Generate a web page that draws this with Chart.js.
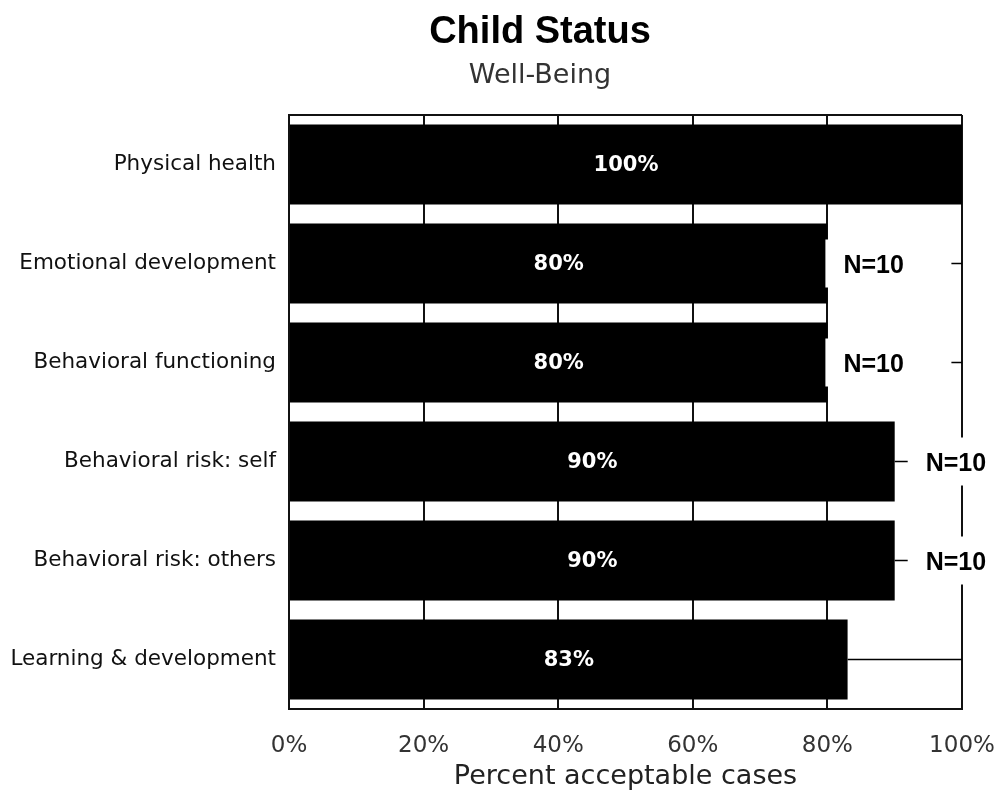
<!DOCTYPE html>
<html>
<head>
<meta charset="utf-8">
<script src="https://cdn.jsdelivr.net/npm/chart.js@4.4.0/dist/chart.umd.min.js"></script>
<style>
html, body { margin: 0; padding: 0; background: #fff; }
</style>
</head>
<body>
<canvas id="myChart" width="997" height="793"></canvas>
<script>
var categories = ['Physical health', 'Emotional development', 'Behavioral functioning',
    'Behavioral risk: self', 'Behavioral risk: others', 'Learning & development'];
var percentAcceptable = [100, 80, 80, 90, 90, 83];
var sampleLabels = ['', 'N=10', 'N=10', 'N=10', 'N=10', ''];
var tickValues = [0, 20, 40, 60, 80, 100];

// frame top, leader lines, value labels, N boxes and the titles
var overlay = {
    id: 'overlay',
    beforeDatasetsDraw: function (chart) {
        var c = chart.ctx, a = chart.chartArea;
        c.save();
        c.strokeStyle = '#111';
        c.lineWidth = 2;
        c.beginPath();
        c.moveTo(a.left, a.top);
        c.lineTo(a.right, a.top);
        c.stroke();
        c.restore();
    },
    afterDatasetsDraw: function (chart) {
        var c = chart.ctx, a = chart.chartArea;
        var meta = chart.getDatasetMeta(0);
        c.save();
        meta.data.forEach(function (bar, i) {
            var v = percentAcceptable[i];
            if (v < 100) {
                c.strokeStyle = '#000';
                c.lineWidth = 1.5;
                c.beginPath();
                c.moveTo(bar.x, bar.y);
                c.lineTo(a.right, bar.y);
                c.stroke();
            }
            c.fillStyle = '#fff';
            c.font = 'bold 21px "DejaVu Sans"';
            c.textAlign = 'center';
            c.textBaseline = 'middle';
            c.fillText(v + '%', (bar.base + bar.x) / 2, bar.y + 1);

            if (sampleLabels[i]) {
                var tx = bar.x + (v >= 90 ? 31 : 16);
                c.fillStyle = '#fff';
                c.fillRect(tx - 18, bar.y - 24, 126, 48);
                c.fillStyle = '#000';
                c.font = 'bold 25px "Liberation Sans"';
                c.textAlign = 'left';
                c.fillText(sampleLabels[i], tx, bar.y + 3);
            }
        });
        c.restore();
    },
    afterDraw: function (chart) {
        var c = chart.ctx;
        c.save();
        c.textAlign = 'center';
        c.textBaseline = 'alphabetic';
        c.fillStyle = '#000';
        c.font = 'bold 38px "Liberation Sans"';
        c.fillText('Child Status', 540, 43);
        c.fillStyle = '#333';
        c.font = '27px "DejaVu Sans"';
        c.fillText('Well-Being', 540, 83);
        c.restore();
    }
};

var ctx = document.getElementById('myChart').getContext('2d');
var myChart = new Chart(ctx, {
    type: 'bar',
    data: {
        labels: categories,
        datasets: [{
            label: 'Percent acceptable cases',
            data: percentAcceptable,
            backgroundColor: '#000',
            borderWidth: 0,
            barPercentage: 0.81,
            categoryPercentage: 1
        }]
    },
    options: {
        indexAxis: 'y',
        responsive: false,
        animation: false,
        layout: { padding: { top: 115, right: 35, left: 0, bottom: 0 } },
        plugins: {
            legend: { display: false },
            tooltip: { enabled: false }
        },
        scales: {
            x: {
                min: 0,
                max: 100,
                afterBuildTicks: function (s) {
                    s.ticks = tickValues.map(function (v) { return { value: v }; });
                },
                afterFit: function (s) {
                    s.height = 84;
                    s.paddingLeft = 0;
                    s.paddingRight = 0;
                },
                ticks: {
                    callback: function (v) { return v + '%'; },
                    color: '#333',
                    font: { family: 'DejaVu Sans', size: 23 },
                    padding: 23,
                    maxRotation: 0
                },
                grid: { color: '#111', lineWidth: 2, drawTicks: false },
                border: { color: '#111', width: 2 },
                title: {
                    display: true,
                    text: 'Percent acceptable cases',
                    color: '#222',
                    font: { family: 'DejaVu Sans', size: 27 },
                    padding: { top: 0, bottom: 0 }
                }
            },
            y: {
                afterFit: function (s) {
                    s.width = 289;
                    s.paddingTop = 0;
                    s.paddingBottom = 0;
                },
                ticks: {
                    color: '#111',
                    font: { family: 'DejaVu Sans', size: 21.5 },
                    padding: 13
                },
                grid: { display: false, drawTicks: false },
                border: { color: '#111', width: 2 }
            }
        }
    },
    plugins: [overlay]
});
</script>
</body>
</html>
